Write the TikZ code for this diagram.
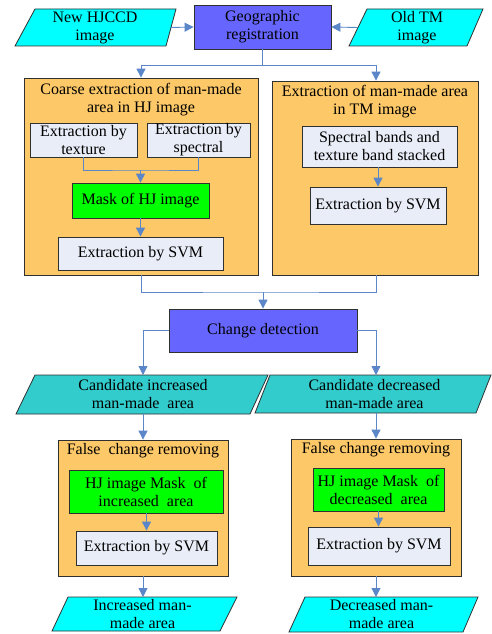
\documentclass[tikz,border=0pt]{standalone}
\usepackage{fontspec}
\setmainfont{Liberation Serif}
\usetikzlibrary{arrows.meta}
\definecolor{bbox}{HTML}{6666FF}
\definecolor{obox}{HTML}{FDC868}
\definecolor{lbox}{HTML}{E9EDF7}
\definecolor{gbox}{HTML}{00FF00}
\definecolor{tbox}{HTML}{33CCCC}
\definecolor{cbox}{HTML}{00FFFF}
\definecolor{conn}{HTML}{5B86C8}
\definecolor{edge}{HTML}{303030}
\tikzset{
  box/.style={draw=edge, line width=0.8pt, inner sep=0pt, align=center, font=\rmfamily\fontsize{16}{18}\selectfont},
  txt/.style={inner sep=0pt, align=center, font=\rmfamily\fontsize{16}{18}\selectfont},
  para/.style={draw=edge, line width=0.8pt},
  lin/.style={draw=conn, line width=0.9pt},
  arr/.style={draw=conn, line width=0.9pt, -{Triangle[width=9pt,length=9pt]}},
}
\begin{document}
\begin{tikzpicture}[x=1pt,y=-1pt]
\useasboundingbox (0,0) rectangle (492,634);
% parallelograms
\fill[cbox] (35,9) -- (176,9) -- (166,46) -- (15,46) -- cycle;
\draw[para] (35,9) -- (176,9) -- (166,46) -- (15,46) -- cycle;
\node[txt] (new) at (95,27.5) {New HJCCD\\image};
\coordinate (newR) at (171,27.5);
\fill[cbox] (367,9) -- (483,9) -- (467,46) -- (349,46) -- cycle;
\draw[para] (367,9) -- (483,9) -- (467,46) -- (349,46) -- cycle;
\node[txt] (old) at (417,27.5) {Old TM\\image};
\coordinate (oldL) at (358,27.5);
% geographic registration
\node[box, fill=bbox, minimum width=137pt, minimum height=44pt] (geo) at (262.5,27) {Geographic\\registration};
% containers
\node[box, fill=obox, minimum width=234pt, minimum height=197pt] (coarse) at (141,176.5) {};
\node[txt] (coarseT) at (141,100) {Coarse extraction of man-made\\area in HJ image};
\node[box, fill=obox, minimum width=206pt, minimum height=194pt] (tm) at (375,178) {};
\node[txt] (tmT) at (375,101.5) {Extraction of man-made area\\in TM image};
% inner left
\node[box, fill=lbox, minimum width=107pt, minimum height=34pt] (tex) at (83.5,140) {Extraction by\\texture};
\node[box, fill=lbox, minimum width=103pt, minimum height=34pt] (spec) at (198.5,140) {Extraction by\\spectral};
\node[box, fill=gbox, minimum width=137pt, minimum height=35pt] (mask) at (140.5,200.5) {Mask of HJ image};
\node[box, fill=lbox, minimum width=165pt, minimum height=33pt] (svma) at (140.5,253.5) {Extraction by SVM};
% inner right
\node[box, fill=lbox, minimum width=155pt, minimum height=41pt] (stack) at (379.5,146.5) {Spectral bands and\\texture band stacked};
\node[box, fill=lbox, minimum width=136pt, minimum height=37pt] (svmb) at (378,205.5) {Extraction by SVM};
% change detection
\node[box, fill=bbox, minimum width=188pt, minimum height=43pt] (change) at (263,330.5) {Change detection};
% candidates
\fill[tbox] (35,375) -- (268,375) -- (250,414) -- (16,414) -- cycle;
\draw[para] (35,375) -- (268,375) -- (250,414) -- (16,414) -- cycle;
\node[txt] (cinc) at (143,394.5) {Candidate increased\\man-made\ \ area};
\coordinate (ciT) at (143,375);
\coordinate (ciB) at (143,414);
\fill[tbox] (270,375) -- (491,375) -- (476,413) -- (255,413) -- cycle;
\draw[para] (270,375) -- (491,375) -- (476,413) -- (255,413) -- cycle;
\node[txt] (cdec) at (374.5,394.5) {Candidate decreased\\man-made area};
\coordinate (cdT) at (376,375);
\coordinate (cdB) at (376,413);
% false change removing left
\node[box, fill=obox, minimum width=170pt, minimum height=136pt] (fa) at (143,508) {};
\node[txt] (faT) at (143,451) {False\ \ change removing};
\node[box, fill=gbox, minimum width=154pt, minimum height=43pt] (maska) at (146,491.5) {HJ image Mask\ \ of\\increased\ \ area};
\node[box, fill=lbox, minimum width=141pt, minimum height=34pt] (svmc) at (146.5,548) {Extraction by SVM};
% false change removing right
\node[box, fill=obox, minimum width=170pt, minimum height=137pt] (fb) at (376,507.5) {};
\node[txt] (fbT) at (376,449.5) {False change removing};
\node[box, fill=gbox, minimum width=131pt, minimum height=43pt] (maskb) at (378.5,489.5) {HJ image Mask\ \ of\\decreased\ \ area};
\node[box, fill=lbox, minimum width=142pt, minimum height=38pt] (svmd) at (379,546) {Extraction by SVM};
% outputs
\fill[cbox] (68,597) -- (237,597) -- (220,631) -- (52,631) -- cycle;
\draw[para] (68,597) -- (237,597) -- (220,631) -- (52,631) -- cycle;
\node[txt] (oinc) at (142.5,614) {Increased man-\\made area};
\coordinate (oiT) at (143,597);
\fill[cbox] (305,597) -- (478,597) -- (463,632) -- (289,632) -- cycle;
\draw[para] (305,597) -- (478,597) -- (463,632) -- (289,632) -- cycle;
\node[txt] (odec) at (381.5,614.5) {Decreased man-\\made area};
\coordinate (odT) at (376,597);
% connectors
\draw[arr] (newR) -- (geo.west);
\draw[arr] (oldL) -- (geo.east);
\coordinate (j1) at (262.5,65);
\draw[lin] (geo.south) -- (j1);
\draw[arr] (j1) -| (coarse.north);
\draw[arr] (j1) -| ([xshift=1pt]tm.north);
\coordinate (j2) at (140.5,170);
\draw[lin] (tex.south) |- (j2) -| (spec.south);
\draw[arr] (j2) -- (mask.north);
\draw[arr] (mask.south) -- (svma.north);
\draw[arr] (stack.south -| svmb.north) -- (svmb.north);
\coordinate (j3) at (263,292);
\draw[lin] (coarse.south) |- (j3) -| ([xshift=1pt]tm.south);
\draw[arr] (j3) -- (change.north);
\draw[arr] (change.west) -| (ciT);
\draw[arr] (change.east) -| (cdT);
\draw[arr] (ciB) -- (fa.north);
\draw[arr] (cdB) -- (fb.north);
\draw[arr] (maska.south -| svmc.north) -- (svmc.north);
\draw[arr] (maskb.south) -- (maskb.south |- svmd.north);
\draw[arr] (fa.south) -- (oiT);
\draw[arr] (fb.south) -- (odT);
\end{tikzpicture}
\end{document}
